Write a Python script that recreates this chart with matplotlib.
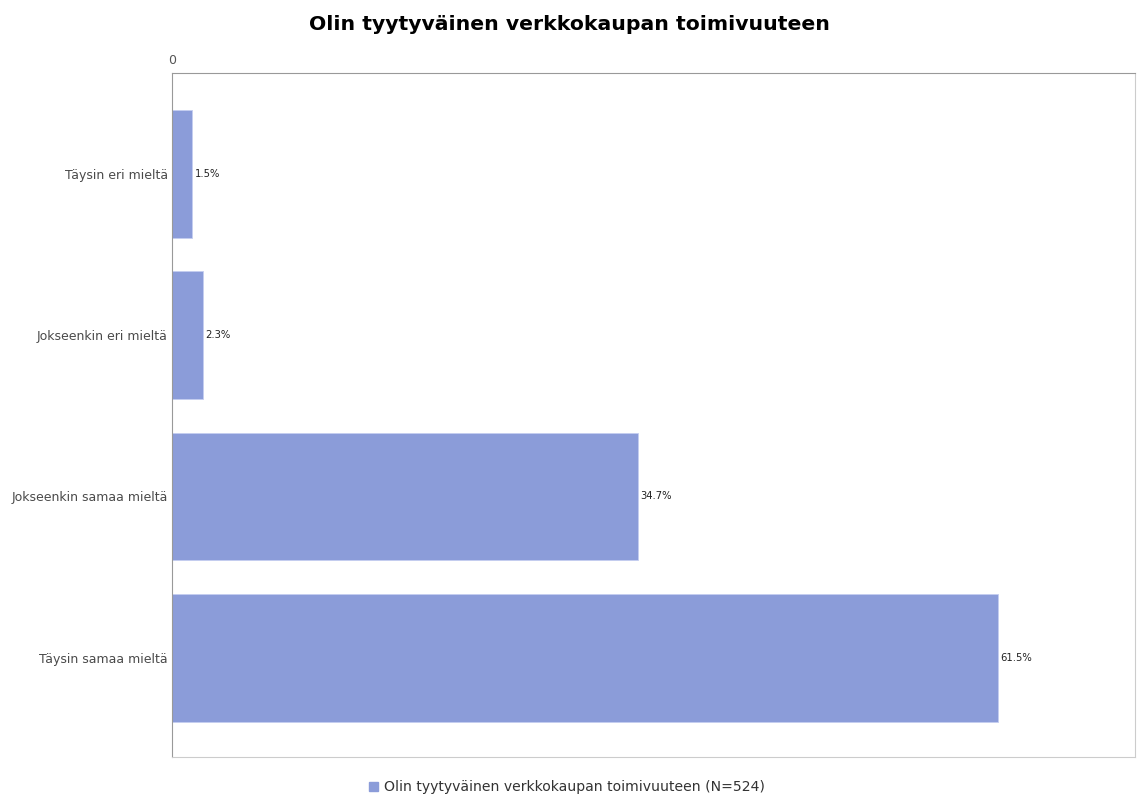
import matplotlib.pyplot as plt
from matplotlib.patches import Patch

categories = ["Täysin eri mieltä", "Jokseenkin eri mieltä",
              "Jokseenkin samaa mieltä", "Täysin samaa mieltä"]
shares = [1.5, 2.3, 34.7, 61.5]
title = "Olin tyytyväinen verkkokaupan toimivuuteen"
series_name = "Olin tyytyväinen verkkokaupan toimivuuteen (N=524)"

bar_color = "#8b9cd9"

fig = plt.figure(figsize=(11.38, 7.97), dpi=100)
ax = fig.add_axes([0.1511, 0.0502, 0.8463, 0.8582])

y = range(len(categories))
bars = ax.barh(y, shares, height=0.79, color=bar_color,
               edgecolor="#c5cdf0", linewidth=0.6)
for b, v in zip(bars, shares):
    ax.text(b.get_width() + 0.2, b.get_y() + b.get_height() / 2,
            f"{v}%", va="center", ha="left", fontsize=7.2, color="#222222")

ax.set_xlim(0, 71.7)
ax.set_ylim(3.615, -0.625)
ax.set_yticks(list(y))
ax.set_yticklabels(categories, fontsize=9, color="#4a4a4a")
ax.xaxis.tick_top()
ax.set_xticks([0])
ax.set_xticklabels(["0"], fontsize=9, color="#555555")
ax.tick_params(axis="y", length=0, pad=3)
ax.tick_params(axis="x", length=0, pad=4)

ax.spines["left"].set_color("#999999")
ax.spines["top"].set_color("#999999")
ax.spines["right"].set_color("#cccccc")
ax.spines["bottom"].set_color("#cccccc")

fig.text(0.5, 0.969, title, ha="center", va="center",
         fontsize=14.7, fontweight="bold", family="DejaVu Sans")

fig.legend(handles=[Patch(color=bar_color, label=series_name)],
           loc="center", bbox_to_anchor=(0.498, 0.012), frameon=False,
           fontsize=10.1, handlelength=0.7, handleheight=0.7,
           handletextpad=0.4, labelcolor="#333333")

fig.savefig("out.png", dpi=100)
